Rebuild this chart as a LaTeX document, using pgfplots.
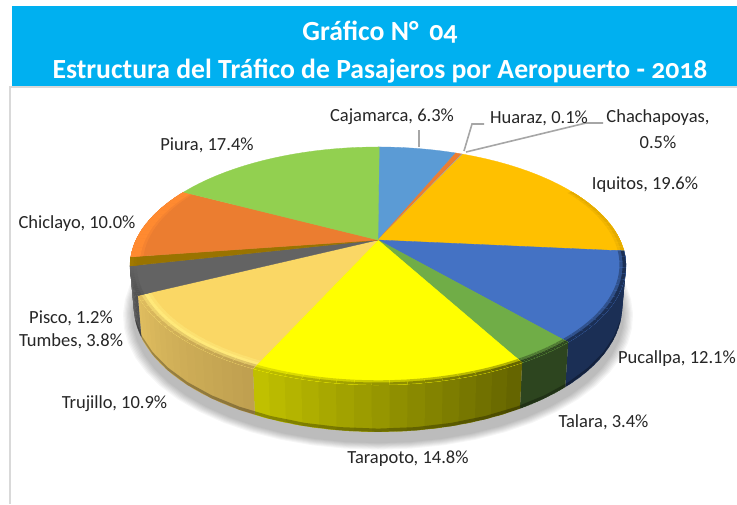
\documentclass[border=0pt]{standalone}
\usepackage{pgfplots}
\pgfplotsset{compat=1.18}
\usepackage{fontspec}
\setmainfont{Carlito}
\newfontfamily\titlefont[Numbers=OldStyle]{Carlito}
\definecolor{cCaj}{HTML}{5B9BD5}
\definecolor{cCha}{HTML}{ED7D31}
\definecolor{cHua}{HTML}{A5A5A5}
\definecolor{cIqu}{HTML}{FFC000}
\definecolor{eIqu}{HTML}{E3AB00}
\definecolor{cPuc}{HTML}{4472C4}
\definecolor{ePuc}{HTML}{1B2F55}
\definecolor{cTal}{HTML}{70AD47}
\definecolor{eTal}{HTML}{2D451F}
\definecolor{cTar}{HTML}{FFFF00}
\definecolor{lTar}{HTML}{C4C400}
\definecolor{rTar}{HTML}{626200}
\definecolor{cTru}{HTML}{FAD765}
\definecolor{mTru}{HTML}{FFE97A}
\definecolor{lTru}{HTML}{E0BE60}
\definecolor{rTru}{HTML}{BF9F50}
\definecolor{cTum}{HTML}{636363}
\definecolor{eTum}{HTML}{505050}
\definecolor{cPis}{HTML}{997300}
\definecolor{ePis}{HTML}{A87E00}
\definecolor{cChi}{HTML}{EB7D30}
\definecolor{eChi}{HTML}{FF8A30}
\definecolor{cPiu}{HTML}{92D050}
\definecolor{banner}{HTML}{00B0F0}
\definecolor{txt}{HTML}{262626}
\definecolor{lead}{HTML}{A6A6A6}
% one band of the pie between two rims
\newcommand\Ribbon[7]{%
  \addplot[forget plot,fill={#7},draw=none,variable=\w,
    samples at={0,0.25,0.5,0.75,1,1.001,1.25,1.5,1.75,2}]
   ({PX(TH(\w,#1,#2),SS(\w,#3,#5),SS(\w,#4,#6))},{PY(TH(\w,#1,#2),SS(\w,#3,#5),SS(\w,#4,#6))}) -- cycle;}
\newcommand\Disc[3]{%
  \addplot[forget plot,fill={#3},draw={#3},line width=0.3pt,variable=\w,
    samples at={0,0.05,0.1,0.15,0.2,0.25,0.3,0.35,0.4,0.45,0.5,0.55,0.6,0.65,0.7,0.75,0.8,0.85,0.9,0.95,1,2}]
   ({PX(TH(\w,#1,#2),SS(\w,1,0),0)},{PY(TH(\w,#1,#2),SS(\w,1,0),0)}) -- cycle;}
\newcommand\Shadow[2]{%
  \addplot[forget plot,fill=black,draw=none,fill opacity=0.035,variable=\t,domain=0:360,samples=61]
   ({PX(\t,#1,#2)},{PY(\t,#1,#2)}) -- cycle;}
% pass 1: outer wall of a slice
\newcommand\PassSide[6]{%
  \pgfmathsetmacro\a{\cum}\pgfmathsetmacro\b{\cum+3.6*#1}%
  \pgfmathsetmacro\aa{max(\a,95)}\pgfmathsetmacro\bb{min(\b,257.4)}%
  \ifdim\aa pt<\bb pt
   \pgfmathsetmacro\st{(\bb-\aa)/16}%
   \foreach \i in {1,...,16}{%
     \pgfmathsetmacro\ai{\aa+(\i-1)*\st}\pgfmathsetmacro\aj{min(\bb,\aa+(\i+0.6)*\st)}%
     \pgfmathtruncatemacro\p{100*(\i-0.5)/16}%
     \edef\temp{\noexpand\Ribbon{\ai}{\aj}{1}{-0.02}{1}{1}{#5!\p!#4}}\temp
   }%
  \fi
  \global\let\cum\b}
% pass 2: top face and its bevel
\newcommand\PassTop[6]{%
  \pgfmathsetmacro\a{\cum}\pgfmathsetmacro\b{\cum+3.6*#1}%
  \edef\temp{\noexpand\Disc{\a}{\b}{#2}}\temp
  \ifdim#6pt<361pt
   \pgfmathsetmacro\aa{max(\a,#6)}\pgfmathsetmacro\bb{\b}%
   \pgfmathsetmacro\st{(\bb-\aa)/16}%
   \foreach \i in {1,...,16}{%
     \pgfmathsetmacro\ai{\aa+(\i-1)*\st}\pgfmathsetmacro\aj{min(\bb,\aa+(\i+0.6)*\st)}%
     \pgfmathtruncatemacro\p{100*(\i-0.5)/16}%
     \edef\temp{\noexpand\Ribbon{\ai}{\aj}{0.95}{0}{1}{0}{#3!50!#2}}\temp
     \edef\temp{\noexpand\Ribbon{\ai}{\aj}{0.962}{0}{1}{0}{#3}}\temp
     \edef\temp{\noexpand\Ribbon{\ai}{\aj}{0.975}{0}{1}{0}{#5!\p!#4!50!#3}}\temp
     \edef\temp{\noexpand\Ribbon{\ai}{\aj}{0.987}{0}{1}{0}{#5!\p!#4}}\temp
   }%
  \fi
  \global\let\cum\b}
% value, top colour, bevel colour, wall colour left of the slice, right of it, bevel start angle
\newcommand\AllSlices[1]{%
  \gdef\cum{0}%
  #1{6.3}{cCaj}{cCaj}{cCaj}{cCaj}{999}%
  #1{0.5}{cCha}{cCha}{cCha}{cCha}{999}%
  #1{0.1}{cHua}{cHua}{cHua}{cHua}{999}%
  #1{19.6}{cIqu}{cIqu}{eIqu}{eIqu}{62}%
  #1{12.1}{cPuc}{cPuc}{ePuc}{ePuc}{0}%
  #1{3.4}{cTal}{cTal}{eTal}{eTal}{0}%
  #1{14.8}{cTar}{cTar}{rTar}{lTar}{0}%
  #1{10.9}{cTru}{mTru}{rTru}{lTru}{0}%
  #1{3.8}{cTum}{cTum}{eTum}{cTum}{0}%
  #1{1.2}{cPis}{cPis}{ePis}{ePis}{0}%
  #1{10.0}{cChi}{eChi}{eChi}{eChi}{0}%
  #1{17.4}{cPiu}{cPiu}{cPiu}{cPiu}{999}%
}
\begin{document}
\begin{tikzpicture}
\begin{axis}[
  width=737pt,height=504pt,scale only axis,
  xmin=0,xmax=737,ymin=0,ymax=504,y dir=reverse,
  axis lines=none,clip=true,no markers,
  declare function={
    TH(\w,\p,\q)=(\w<1.0005)*(\p+(\q-\p)*\w)+(\w>1.0005)*(\q-(\q-\p)*(\w-1));
    SS(\w,\p,\q)=(\w<1.0005)*\p+(\w>1.0005)*\q;
    PX(\t,\s,\d)=378+(1-0.015*\d)*242*\s*sin(\t)/(1+0.218*\s*cos(\t));
    PY(\t,\s,\d)=240-113.3*\s*cos(\t)/(1+0.218*\s*cos(\t))+\d*(38-9*cos(\t));
  },
]
% white page
\addplot[forget plot,fill=white,draw=white] coordinates {(0,0)(737,0)(737,504)(0,504)} -- cycle;
% banner and frame
\addplot[forget plot,fill=banner,draw=none] coordinates {(12,6)(737,6)(737,86)(12,86)} -- cycle;
\addplot[forget plot,draw=black!15,line width=1.5pt] coordinates {(10,504)(10,87)(737,87)};
% soft shadow
\Shadow{1.045}{1.2}\Shadow{1.04}{1.2}\Shadow{1.035}{1.2}\Shadow{1.03}{1.2}
\Shadow{1.025}{1.2}\Shadow{1.02}{1.2}\Shadow{1.015}{1.2}\Shadow{1.01}{1.2}
% walls, their dark foot, then the top faces
\AllSlices{\PassSide}
\addplot[forget plot,fill=black,draw=none,fill opacity=0.28,variable=\w,
  samples at={0,0.05,0.1,0.15,0.2,0.25,0.3,0.35,0.4,0.45,0.5,0.55,0.6,0.65,0.7,0.75,0.8,0.85,0.9,0.95,1,
    1.001,1.05,1.1,1.15,1.2,1.25,1.3,1.35,1.4,1.45,1.5,1.55,1.6,1.65,1.7,1.75,1.8,1.85,1.9,1.95,2}]
  ({PX(TH(\w,110,250),1,SS(\w,0.93,1))},{PY(TH(\w,110,250),1,SS(\w,0.93,1))}) -- cycle;
\AllSlices{\PassTop}
% leaders
\addplot[forget plot,draw=lead,line width=1.6pt] coordinates {(419,130)(419,147)};
\addplot[forget plot,draw=lead,line width=1.6pt] coordinates {(484,124)(472,124)(464,151)};
\addplot[forget plot,draw=lead,line width=1.6pt] coordinates {(603,123)(586,123)(466,152)};
% titles
\node[text=white,font=\titlefont\fontsize{27.7}{30}\selectfont\bfseries] at (axis cs:380,32) {Gráfico N°\, 04};
\node[text=white,font=\titlefont\fontsize{27.7}{30}\selectfont\bfseries] at (axis cs:380,71) {Estructura del Tráfico de Pasajeros por Aeropuerto - 2018};
% labels
\tikzset{lab/.style={text=txt,font=\fontsize{18.5}{20}\selectfont,inner sep=0pt}}
\node[lab] at (axis cs:392,117) {Cajamarca, 6.3\%};
\node[lab] at (axis cs:539,118) {Huaraz, 0.1\%};
\node[lab] at (axis cs:658,118) {Chachapoyas,};
\node[lab] at (axis cs:658,142) {0.5\%};
\node[lab] at (axis cs:645,185) {Iquitos, 19.6\%};
\node[lab,anchor=east] at (axis cs:736,359) {Pucallpa, 12.1\%};
\node[lab] at (axis cs:603.5,422) {Talara, 3.4\%};
\node[lab] at (axis cs:408,459) {Tarapoto, 14.8\%};
\node[lab] at (axis cs:114.5,404) {Trujillo, 10.9\%};
\node[lab] at (axis cs:71,318) {Pisco, 1.2\%};
\node[lab] at (axis cs:71,341) {Tumbes, 3.8\%};
\node[lab] at (axis cs:77,224) {Chiclayo, 10.0\%};
\node[lab] at (axis cs:207,145) {Piura, 17.4\%};
\end{axis}
\end{tikzpicture}
\end{document}
